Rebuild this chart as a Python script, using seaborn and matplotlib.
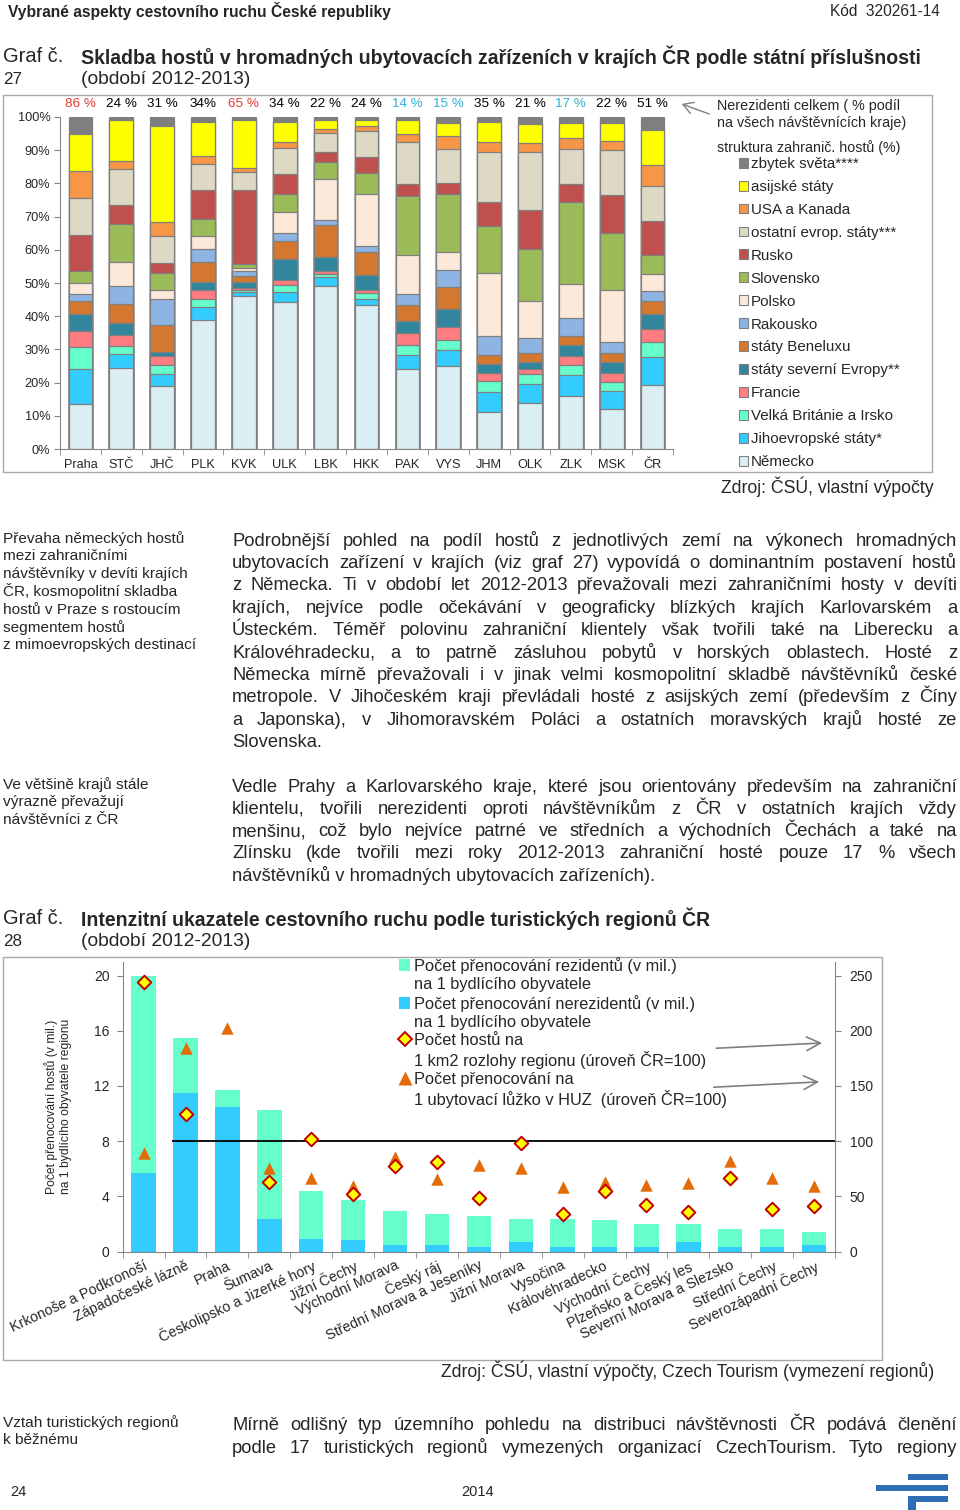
import numpy as np
import pandas as pd
import matplotlib
matplotlib.use('Agg')
import matplotlib.pyplot as plt
import seaborn as sns
from matplotlib.patches import Patch, Rectangle, FancyArrowPatch
from matplotlib.lines import Line2D

sns.set_style('white')
plt.rcParams['font.family'] = ['Liberation Sans', 'DejaVu Sans']

W, H = 960, 1510

# ---- Graf 27: skladba zahranicnich hostu podle kraju (v %) ----
kraje = ['Praha', 'STČ', 'JHČ', 'PLK', 'KVK', 'ULK', 'LBK', 'HKK', 'PAK',
         'VYS', 'JHM', 'OLK', 'ZLK', 'MSK', 'ČR']
nerezidenti_pct = [86, 24, 31, 34, 65, 34, 22, 24, 14, 15, 35, 21, 17, 22, 51]
nerezidenti_lbl = ['86 %', '24 %', '31 %', '34%', '65 %', '34 %', '22 %', '24 %',
                   '14 %', '15 %', '35 %', '21 %', '17 %', '22 %', '51 %']

nemecko = [13.7, 24.5, 19.0, 38.8, 46.2, 44.2, 49.0, 43.3, 24.2, 25.0, 11.1, 14.0, 16.1, 12.0, 19.3]
jihoevropske = [10.5, 4.0, 3.5, 4.0, 1.2, 3.1, 2.9, 2.0, 4.0, 4.8, 6.2, 5.6, 6.1, 5.5, 8.3]
britanie = [6.6, 2.5, 2.8, 2.3, 0.6, 2.2, 0.8, 1.7, 3.0, 3.0, 3.3, 2.9, 3.0, 2.8, 4.7]
francie = [4.8, 3.3, 2.8, 2.7, 0.6, 1.5, 1.0, 1.0, 3.6, 4.0, 2.2, 1.6, 2.9, 2.5, 3.9]
sever = [5.2, 3.8, 1.0, 2.6, 1.6, 6.1, 4.2, 4.4, 3.7, 5.4, 2.7, 2.2, 3.1, 3.5, 4.6]
benelux = [3.8, 5.6, 8.1, 6.0, 1.9, 5.6, 9.5, 6.8, 5.0, 6.6, 2.8, 2.5, 2.9, 2.5, 3.8]
rakousko = [2.0, 5.5, 8.1, 3.7, 1.6, 2.5, 1.5, 1.9, 3.3, 5.1, 5.8, 4.5, 5.5, 3.4, 3.0]
polsko = [3.4, 7.2, 2.5, 4.0, 0.7, 6.1, 12.5, 15.6, 11.6, 5.3, 19.0, 11.3, 10.0, 15.8, 5.1]
slovensko = [3.7, 11.5, 5.1, 5.3, 1.3, 5.4, 5.0, 6.4, 17.7, 17.5, 14.2, 15.5, 24.8, 17.1, 5.7]
rusko = [10.7, 5.5, 3.1, 8.7, 22.4, 6.2, 3.1, 4.9, 3.8, 3.4, 7.1, 11.8, 5.5, 11.5, 10.2]
ostatni = [11.3, 11.0, 8.3, 7.7, 5.4, 7.9, 5.7, 7.8, 12.6, 10.2, 15.1, 17.6, 10.6, 13.4, 10.6]
usa = [7.9, 2.3, 4.0, 2.5, 1.2, 1.7, 1.1, 1.4, 2.5, 3.9, 3.0, 2.8, 3.3, 2.8, 6.2]
asie = [11.2, 12.3, 29.1, 10.2, 14.3, 6.0, 2.7, 1.8, 4.0, 4.1, 6.0, 5.7, 4.5, 5.4, 10.6]
zbytek = [5.2, 1.0, 2.6, 1.5, 1.0, 1.5, 1.0, 1.0, 1.0, 1.7, 1.5, 2.0, 1.7, 1.8, 4.0]

segmenty = ['Německo', 'Jihoevropské státy*', 'Velká Británie a Irsko', 'Francie',
            'státy severní Evropy**', 'státy Beneluxu', 'Rakousko', 'Polsko',
            'Slovensko', 'Rusko', 'ostatní evrop. státy***', 'USA a Kanada',
            'asijské státy', 'zbytek světa****']
barvy = ['#DAEEF3', '#33CCFF', '#66FFCC', '#FF7C80', '#31859C', '#D4782F', '#8DB4E2',
         '#FDE9D9', '#9BBB59', '#C0504D', '#DDD9C4', '#F79646', '#FFFF00', '#7F7F7F']

# ---- Graf 28: turisticke regiony ----
regiony = ['Krkonoše a Podkronoší', 'Západočeské lázně', 'Praha', 'Šumava',
           'Českolipsko a Jizerké hory', 'Jižní Čechy', 'Východní Morava', 'Český ráj',
           'Střední Morava a Jeseníky', 'Jižní Morava', 'Vysočina', 'Královéhradecko',
           'Východní Čechy', 'Plzeňsko a Český les', 'Severní Morava a Slezsko',
           'Střední Čechy', 'Severozápadní Čechy']
prenoc_rezidenti = [14.28, 4.03, 1.24, 7.93, 3.5, 2.9, 2.49, 2.25, 2.18, 1.66, 1.98,
                    1.89, 1.71, 1.32, 1.33, 1.26, 0.95]
prenoc_nerezidenti = [5.72, 11.47, 10.46, 2.34, 0.9, 0.8, 0.48, 0.48, 0.36, 0.68, 0.36,
                      0.36, 0.29, 0.68, 0.29, 0.36, 0.48]
hoste_km2 = [244, 124.7, np.nan, 63.4, 101.7, 52.2, 77, 80.9, 48.3, 98.7, 33.8, 55,
             42.3, 36.2, 66.4, 38.3, 40.8]
prenoc_luzko = [89.4, 184, 202, 75.5, 66.4, 59.5, 86, 65.8, 78.8, 75.2, 58, 63, 60.4,
                61.6, 82.1, 66.7, 59.5]

fig = plt.figure(figsize=(W / 100, H / 100), dpi=100)
renderer = fig.canvas.get_renderer()


def fx(x):
    return x / W


def fy(y):
    return 1 - y / H


def ptext(x, y, s, size, **kw):
    kw.setdefault('va', 'center')
    return fig.text(fx(x), fy(y), s, fontsize=size, **kw)


def fit(x0, x1, y, s, size, **kw):
    # set font size so that the text spans x0..x1
    t = ptext(x0, y, s, size, **kw)
    w = t.get_window_extent(renderer).width
    t.set_fontsize(size * (x1 - x0) / w)
    if kw.get('ha') == 'right':
        t.set_x(fx(x1))
    return t


def justify(x0, x1, y, line, size, last=False):
    base = y + size * 100 / 72 * 0.36
    if last:
        ptext(x0, base, line, size, va='baseline')
        return
    words = line.split()
    widths = []
    for w in words:
        t = ptext(0, base, w, size, va='baseline')
        widths.append(t.get_window_extent(renderer).width)
        t.remove()
    gap = (x1 - x0 - sum(widths)) / (len(words) - 1)
    x = x0
    for w, wd in zip(words, widths):
        ptext(x, base, w, size, va='baseline')
        x += wd + gap


# ---------------- header ----------------
fit(8, 390, 11, 'Vybrané aspekty cestovního ruchu České republiky', 10, fontweight='bold')
fit(829, 940, 11, 'Kód  320261-14', 10, ha='right')

fit(3, 63, 57, 'Graf č.', 12)
fit(3, 22, 79, '27', 12)
fit(81, 919, 57, 'Skladba hostů v hromadných ubytovacích zařízeních v krajích ČR podle státní příslušnosti',
    12, fontweight='bold')
fit(81, 251, 79, '(období 2012-2013)', 12)

# ---------------- graf 27 ----------------
fig.add_artist(Rectangle((fx(3), fy(472)), 929 / W, 377 / H, transform=fig.transFigure,
                         fill=False, edgecolor='#A6A6A6', lw=1))
ax1 = fig.add_axes([fx(60), fy(449), 613 / W, 332 / H])
podily = pd.DataFrame(dict(zip(segmenty, [nemecko, jihoevropske, britanie, francie, sever,
                                          benelux, rakousko, polsko, slovensko, rusko,
                                          ostatni, usa, asie, zbytek])), index=kraje)
kumul = podily.cumsum(axis=1)
for seg, col in reversed(list(zip(segmenty, barvy))):
    sns.barplot(x=kraje, y=kumul[seg].values, order=kraje, color=col, saturation=1,
                width=0.58, edgecolor='#7F7F7F', linewidth=0.9, errorbar=None, ax=ax1)
ax1.set_xlim(-0.5, len(kraje) - 0.5)
ax1.set_ylim(0, 100)
ax1.set_xlabel('')
ax1.set_ylabel('')
ax1.set_yticks(range(0, 101, 10))
ax1.set_yticklabels([f'{v}%' for v in range(0, 101, 10)])
ax1.set_xticks(np.arange(-0.5, len(kraje), 1), minor=True)
ax1.tick_params(axis='y', length=4, color='#868686', labelsize=9.2, pad=3, left=True)
ax1.tick_params(axis='x', which='major', length=0, labelsize=9.2, pad=7)
ax1.tick_params(axis='x', which='minor', length=4, color='#868686', bottom=True)
for s in ['top', 'right']:
    ax1.spines[s].set_visible(False)
for s in ['left', 'bottom']:
    ax1.spines[s].set_color('#868686')
for i, (v, lab) in enumerate(zip(nerezidenti_pct, nerezidenti_lbl)):
    col = '#E03C31' if v >= 60 else ('#31B0D5' if v <= 17 else 'black')
    ax1.text(i, 103.9, lab, ha='center', va='center', fontsize=9.7, color=col, clip_on=False)

ptext(717, 106, 'Nerezidenti celkem ( % podíl', 10.3)
ptext(717, 123, 'na všech návštěvnících kraje)', 10.3)
ptext(717, 148, 'struktura zahranič. hostů (%)', 10.3)
fig.add_artist(FancyArrowPatch((fx(712), fy(115)), (fx(679), fy(103)), transform=fig.transFigure,
                               arrowstyle='->,head_length=0.6,head_width=0.35', color='#808080',
                               lw=1, mutation_scale=12))
handles = [Patch(facecolor=c, edgecolor='#808080', linewidth=0.8) for c in barvy]
fig.legend(handles[::-1], segmenty[::-1], loc='upper left', bbox_to_anchor=(fx(739), fy(157)),
           frameon=False, fontsize=10.9, handlelength=0.62, handleheight=0.62, handletextpad=0.15,
           labelspacing=0.59, borderpad=0, borderaxespad=0)
fit(723, 934, 487, 'Zdroj: ČSÚ, vlastní výpočty', 11, ha='right')

# ---------------- texty ----------------
note_size = 11.1
for k, line in enumerate(['Převaha německých hostů', 'mezi zahraničními',
                          'návštěvníky v devíti krajích', 'ČR, kosmopolitní skladba',
                          'hostů v Praze s rostoucím', 'segmentem hostů',
                          'z mimoevropských destinací']):
    ptext(3, 537 + k * 17.8 + 5.5, line, note_size, va='baseline')
for k, line in enumerate(['Ve většině krajů stále', 'výrazně převažují', 'návštěvníci z ČR']):
    ptext(3, 783 + k * 17.8 + 5.5, line, note_size, va='baseline')

par_size = 13.2
odst1 = ['Podrobnější pohled na podíl hostů z jednotlivých zemí na výkonech hromadných',
         'ubytovacích zařízení v krajích (viz graf 27) vypovídá o dominantním postavení hostů',
         'z Německa.  Ti v období let 2012-2013 převažovali mezi zahraničními hosty v devíti',
         'krajích, nejvíce podle očekávání v geograficky blízkých krajích Karlovarském a',
         'Ústeckém. Téměř polovinu zahraniční klientely však tvořili také na Liberecku a',
         'Královéhradecku, a to patrně zásluhou pobytů v horských oblastech. Hosté z',
         'Německa mírně převažovali i v jinak velmi kosmopolitní skladbě návštěvníků české',
         'metropole. V Jihočeském kraji převládali hosté z asijských zemí (především z Číny',
         'a Japonska), v Jihomoravském Poláci a ostatních moravských krajů hosté ze',
         'Slovenska.']
for k, line in enumerate(odst1):
    justify(232, 957, 539 + k * 22.4, line, par_size, last=(k == len(odst1) - 1))
odst2 = ['Vedle Prahy a Karlovarského kraje, které jsou orientovány především na zahraniční',
         'klientelu, tvořili nerezidenti oproti návštěvníkům z ČR v ostatních krajích vždy',
         'menšinu, což bylo nejvíce patrné ve středních a východních Čechách a také na',
         'Zlínsku (kde tvořili mezi roky 2012-2013 zahraniční hosté pouze 17 % všech',
         'návštěvníků v hromadných ubytovacích zařízeních).']
for k, line in enumerate(odst2):
    justify(232, 957, 785 + k * 22.3, line, par_size, last=(k == len(odst2) - 1))

fit(3, 63, 919, 'Graf č.', 12)
fit(3, 22, 941, '28', 12)
fit(81, 709, 919, 'Intenzitní ukazatele cestovního ruchu podle turistických regionů ČR',
    12, fontweight='bold')
fit(81, 251, 941, '(období 2012-2013)', 12)

# ---------------- graf 28 ----------------
fig.add_artist(Rectangle((fx(3), fy(1360)), 879 / W, 403 / H, transform=fig.transFigure,
                         fill=False, edgecolor='#A6A6A6', lw=1))
ax = fig.add_axes([fx(122.7), fy(1251.5), 712.3 / W, 289.8 / H])
celkem = np.array(prenoc_rezidenti) + np.array(prenoc_nerezidenti)
sns.barplot(x=regiony, y=celkem, order=regiony, color='#66FFCC', saturation=1, width=0.58,
            linewidth=0, errorbar=None, ax=ax)
sns.barplot(x=regiony, y=prenoc_nerezidenti, order=regiony, color='#33CCFF', saturation=1,
            width=0.58, linewidth=0, errorbar=None, ax=ax)
n = len(regiony)
ax.set_xlim(-0.5, n - 0.5)
ax.set_ylim(0, 21)
ax.set_yticks(range(0, 21, 4))
ax.set_xlabel('')
ax.set_ylabel('Počet přenocování hostů (v mil.)\nna 1 bydlícího obyvatele regionu',
              fontsize=8.7, va='center', linespacing=1.15)
ax.yaxis.set_label_coords(-0.0908, 0.5)
ax.set_xticks(range(n))
ax.set_xticklabels(regiony, rotation=25, ha='right', rotation_mode='anchor')
ax.set_xticks(np.arange(-0.5, n, 1), minor=True)
ax.tick_params(axis='x', which='major', length=0, labelsize=10.3, pad=5)
ax.tick_params(axis='x', which='minor', length=4, color='#868686', bottom=True)
ax.tick_params(axis='y', length=4, color='#868686', labelsize=10, pad=5.5, left=True)
for s in ['top', 'right']:
    ax.spines[s].set_visible(False)
for s in ['left', 'bottom']:
    ax.spines[s].set_color('#868686')

ax2 = ax.twinx()
xs = np.arange(n)
ax2.hlines(100, 0.68, n - 0.5, color='black', lw=1.3)
sns.scatterplot(x=xs, y=prenoc_luzko, marker='^', s=80, color='#E36C09', linewidth=0,
                legend=False, ax=ax2, zorder=3)
sns.scatterplot(x=xs, y=hoste_km2, marker='D', s=48, color='#FFFF00', edgecolor='#C00000',
                linewidth=1.4, legend=False, ax=ax2, zorder=4)
ax2.set_xlim(-0.5, n - 0.5)
ax2.set_ylim(0, 262.5)
ax2.set_yticks(range(0, 251, 50))
ax2.set_ylabel('')
ax2.tick_params(axis='y', length=4, color='#868686', labelsize=10, pad=6.5, right=True)
for s in ['top', 'left', 'bottom']:
    ax2.spines[s].set_visible(False)
ax2.spines['right'].set_color('#868686')
ax2.annotate('', xy=(16.26, 189), xytext=(13.6, 184),
             arrowprops=dict(arrowstyle='->,head_length=0.7,head_width=0.35', color='#808080',
                             lw=1.2, mutation_scale=14))
ax2.annotate('', xy=(16.19, 153.8), xytext=(13.54, 148.7),
             arrowprops=dict(arrowstyle='->,head_length=0.7,head_width=0.35', color='#808080',
                             lw=1.2, mutation_scale=14))

prazdny = Patch(facecolor='none', edgecolor='none')
h28 = [Patch(facecolor='#66FFCC', edgecolor='none'), prazdny,
       Patch(facecolor='#33CCFF', edgecolor='none'), prazdny,
       Line2D([], [], ls='none', marker='D', markersize=7, markerfacecolor='#FFFF00',
              markeredgecolor='#C00000', markeredgewidth=1.4), prazdny,
       Line2D([], [], ls='none', marker='^', markersize=10, markerfacecolor='#E36C09',
              markeredgecolor='none'), prazdny]
l28 = ['Počet přenocování rezidentů (v mil.)', 'na 1 bydlícího obyvatele',
       'Počet přenocování nerezidentů (v mil.)', 'na 1 bydlícího obyvatele',
       'Počet hostů na', '1 km2 rozlohy regionu (úroveň ČR=100)',
       'Počet přenocování na', '1 ubytovací lůžko v HUZ  (úroveň ČR=100)']
fig.legend(h28, l28, loc='upper left', bbox_to_anchor=(fx(399), fy(957)), frameon=False,
           fontsize=11.8, handlelength=0.7, handleheight=0.7, handletextpad=0.2,
           labelspacing=0.18, borderpad=0, borderaxespad=0)

fit(441, 934, 1371, 'Zdroj: ČSÚ, vlastní výpočty, Czech Tourism (vymezení regionů)', 11, ha='right')

# ---------------- spodni text a paticka ----------------
ptext(3, 1421 + 5.5, 'Vztah turistických regionů', note_size, va='baseline')
ptext(3, 1439 + 5.5, 'k běžnému', note_size, va='baseline')
justify(232, 957, 1423, 'Mírně odlišný typ územního pohledu na distribuci návštěvnosti ČR podává členění',
        par_size)
justify(232, 957, 1446, 'podle 17 turistických regionů vymezených organizací CzechTourism. Tyto regiony',
        par_size)

ptext(10, 1492, '24', 10.5)
ptext(478, 1492, '2014', 10.5, ha='center')
for (x0, y0, x1, y1) in [(908, 1474, 948, 1480), (876, 1485, 948, 1491),
                         (908, 1496, 948, 1502), (908, 1502, 916, 1510)]:
    fig.add_artist(Rectangle((fx(x0), fy(y1)), (x1 - x0) / W, (y1 - y0) / H,
                             transform=fig.transFigure, color='#2F6EB5', lw=0))

fig.savefig('out.png', dpi=100)
